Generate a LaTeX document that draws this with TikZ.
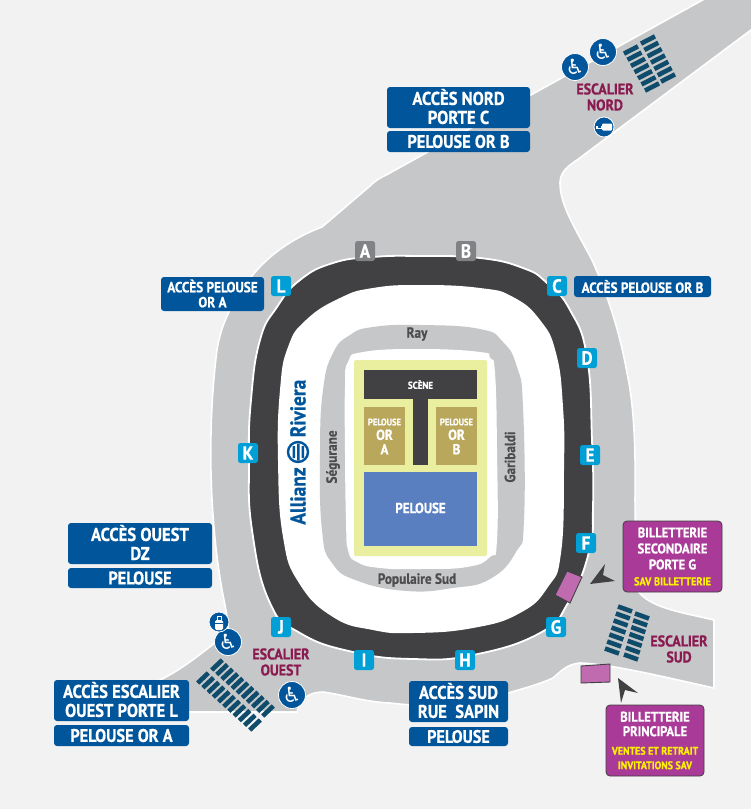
\documentclass[tikz,border=0pt]{standalone}
\usepackage{fontspec}
\setmainfont[FakeStretch=0.9,BoldFeatures={FakeBold=0.7}]{PT Sans}
\newfontfamily\symfont{DejaVu Sans}
\definecolor{bgc}{HTML}{F2F2F2}
\definecolor{road}{HTML}{C6C7C8}
\definecolor{ringc}{HTML}{414042}
\definecolor{blu}{HTML}{00559B}
\definecolor{cyanc}{HTML}{00A0D6}
\definecolor{tilegrey}{HTML}{808285}
\definecolor{purp}{HTML}{A93A97}
\definecolor{lilac}{HTML}{C06AB0}
\definecolor{wine}{HTML}{8A1A4F}
\definecolor{stairc}{HTML}{0F4C6B}
\definecolor{yel}{HTML}{E9EF9F}
\definecolor{gold}{HTML}{B9A75C}
\definecolor{pelblue}{HTML}{5A7FC0}
\definecolor{standtxt}{HTML}{4D4D4F}
\definecolor{yeltxt}{HTML}{FFF200}
\newcommand{\fs}[2]{\fontsize{#1}{#2}\selectfont\bfseries}
% stairs: start, end, half vector of one bar, number of bars
\newcommand{\stairrun}[7]{%
  \pgfmathtruncatemacro{\lastk}{#7-1}%
  \foreach \k in {0,...,\lastk}{%
    \pgfmathsetmacro{\mx}{#1+(#3-#1)*\k/(#7-1)}%
    \pgfmathsetmacro{\my}{#2+(#4-#2)*\k/(#7-1)}%
    \draw[stairbar] ({\mx-(#5)},{\my-(#6)}) -- ({\mx+(#5)},{\my+(#6)});
  }}
\tikzset{
  x=1pt,y=-1pt,
  every node/.style={inner sep=0pt,outer sep=0pt,text=white},
  bluebox/.style={fill=blu,rounded corners=3pt,align=center,minimum height=#1},
  bluefill/.style={fill=blu,rounded corners=3pt},
  purplebox/.style={fill=purp,draw=ringc,line width=0.8pt,rounded corners=4pt,align=center},
  tile/.style={fill=cyanc,rounded corners=2.5pt,minimum size=20pt,font=\fs{19}{19}},
  greytile/.style={tile,fill=tilegrey},
  wine label/.style={text=wine,align=center,font=\fs{15.5}{16}},
  stand/.style={text=standtxt,font=\fs{14.7}{15}},
  stairbar/.style={draw=stairc,line width=4.6pt},
  icon/.style={circle,fill=blu,draw=white,line width=0.8pt,minimum size=27pt,font=\symfont\fontsize{21}{21}\selectfont},
  small icon/.style={circle,fill=blu,draw=white,line width=0.8pt,minimum size=20pt},
  kiosk/.style={fill=lilac,draw=ringc,line width=0.9pt},
  pointer/.style={fill=ringc},
  curve/.style={smooth cycle,tension=0.8},
}
\begin{document}
\begin{tikzpicture}
\useasboundingbox (0,0) rectangle (751,809);
\fill[bgc] (0,0) rectangle (751,809);
% roads
\draw[white,fill=road,line width=1.6pt,line join=round]
  (708,-3) -- (388,174)
  .. controls (380,178) and (376,180) .. (370,186)
  -- (322,227)
  .. controls (300,235) and (280,248) .. (267,260)
  .. controls (245,280) and (222,315) .. (217,350)
  .. controls (208,420) and (208,510) .. (222,590)
  .. controls (226,610) and (229,625) .. (228,633)
  .. controls (205,650) and (185,668) .. (160,680)
  -- (140,690) -- (140,712) -- (297,712)
  .. controls (300,700) and (308,692) .. (323,692)
  .. controls (345,695) and (365,702) .. (390,703)
  .. controls (430,708) and (475,705) .. (508,693)
  .. controls (525,688) and (540,684) .. (553,678)
  .. controls (562,670) and (568,664) .. (580,663)
  .. controls (610,664) and (660,676) .. (714,688)
  -- (714,620)
  .. controls (680,612) and (650,608) .. (637,590)
  .. controls (633,570) and (636,540) .. (635,500)
  .. controls (636,440) and (633,400) .. (627,373)
  .. controls (622,345) and (613,307) .. (592,260)
  .. controls (575,228) and (560,205) .. (560,183)
  .. controls (560,172) and (568,166) .. (577,160)
  -- (755,27) -- (755,-3) -- cycle;
% bowl
\draw[white,fill=ringc,line width=1.8pt] plot[curve] coordinates {(420,256) (480,258) (523,268) (547,283) (570,310) (587,357) (592,440) (593,507) (589,552) (568,603) (540,633) (473,655) (413,659) (353,652) (300,633) (270,603) (252,530) (249,460) (251,400) (260,340) (277,307) (300,280) (333,263) (373,257)};
\fill[white] plot[curve] coordinates {(420,285) (480,288) (513,297) (540,320) (556,353) (563,407) (564,470) (561,553) (548,587) (520,613) (473,628) (413,633) (373,630) (333,617) (299,583) (283,537) (278,460) (280,390) (288,347) (306,320) (340,298) (373,288)};
\fill[road] plot[curve] coordinates {(420,325) (480,329) (503,342) (517,367) (523,407) (524,520) (516,552) (490,579) (453,588) (407,591) (358,581) (332,563) (322,530) (320,453) (323,390) (333,353) (350,335) (373,327)};
\fill[white] plot[curve] coordinates {(420,349) (480,352) (490,358) (495,373) (497,450) (497,540) (490,557) (467,567) (420,569) (380,568) (357,562) (348,550) (346,520) (345,453) (345,387) (348,362) (363,352)};
\fill[yel,rounded corners=2pt] (354,360) rectangle (487,556);
\fill[ringc] (364,370) rectangle (477,399);
\fill[ringc] (413,399) rectangle (428,465);
\fill[gold] (364,407) rectangle (405,465);
\fill[gold] (436,407) rectangle (477,465);
\fill[pelblue] (364,472) rectangle (477,546);
\node[font=\fs{10}{10}] (scene) at (420.5,384.5) {SCÈNE};
\node[align=center,font=\fs{14.5}{14.5}] (ora) at (384.5,436.5) {{\fs{9.5}{10}PELOUSE}\\OR\\A};
\node[align=center,font=\fs{14.5}{14.5}] (orb) at (456.5,436.5) {{\fs{9.5}{10}PELOUSE}\\OR\\B};
\node[font=\fs{14.5}{15}] (pel) at (420.5,508) {PELOUSE};
\node[stand] (ray) at (417,334) {Ray};
\node[stand] (pop) at (417,580) {Populaire Sud};
\node[stand,rotate=90] (seg) at (333,457) {Ségurane};
\node[stand,rotate=90] (gar) at (510,457) {Garibaldi};
% sponsor
\node[rotate=90,text=blu,font=\fs{21.5}{22}] (allianz) at (298,496) {Allianz};
\node[rotate=90,text=blu,font=\fs{21.5}{22}] (riviera) at (298,408.5) {Riviera};
\node[circle,draw=blu,line width=2.4pt,minimum size=20pt] (logo) at (298,452) {};
\fill[blu] (292.5,446) rectangle (295,458) (297,443.5) rectangle (299.5,460.5) (301.5,446) rectangle (304,458);
% tiles
\node[greytile] (A) at (365,251) {A};
\node[greytile] (B) at (466,251) {B};
\node[tile] (C) at (557,286) {C};
\node[tile] (D) at (587,358) {D};
\node[tile] (E) at (590,455) {E};
\node[tile] (F) at (586,543) {F};
\node[tile] (G) at (556,627) {G};
\node[tile] (H) at (465,660) {H};
\node[tile] (I) at (364,660) {I};
\node[tile] (J) at (281,627) {J};
\node[tile] (K) at (248,453) {K};
\node[tile] (L) at (281,286) {L};
% stairs
\stairrun{631}{50}{652}{87}{7}{-3.6}{7}
\stairrun{648}{40}{668}{78}{7}{-3.6}{7}
\stairrun{625}{609}{612}{651}{7}{2.5}{7}
\stairrun{642}{616}{631}{657}{7}{2.5}{7}
\stairrun{217}{665}{268}{711}{5.3}{-5}{11}
\stairrun{203}{678}{255}{725}{5.3}{-5}{11}
% kiosks and pointers
\draw[kiosk] (567,571) -- (582,577) -- (570,603) -- (555,595) -- cycle;
\draw[kiosk] (581,666) -- (610,664) -- (610,682) -- (581,683) -- cycle;
\fill[pointer] (590,584) -- (605,564) -- (603,575) -- (615,581) -- cycle;
\fill[pointer] (618,678) -- (638,693) -- (625,690) -- (621,703) -- cycle;
% wine labels
\node[wine label] (esn) at (605,97) {ESCALIER\\NORD};
\node[wine label] (eso) at (281,662) {ESCALIER\\OUEST};
\node[wine label] (ess) at (679,649) {ESCALIER\\SUD};
% icons
\node[icon] (w1) at (603,52) {♿};
\node[icon] (w2) at (575,67) {♿};
\node[icon] (w3) at (228,642) {♿};
\node[icon] (w4) at (292,695) {♿};
\node[small icon] (bag) at (219,622) {};
\fill[white,rounded corners=1.5pt] (215,620) rectangle (223,630);
\draw[white,line width=1pt] (217,620) -- (217,616.5) -- (221,616.5) -- (221,620);
\draw[blu,line width=0.7pt] (215,623) -- (223,623);
\node[small icon] (tag) at (604,127) {};
\fill[white,rounded corners=1pt] (602,123.5) rectangle (612,130.5);
\fill[white] (596,125.5) rectangle (602,128.5);
\fill[blu] (598,126.3) rectangle (601,127.7);
% blue boxes
\fill[bluefill] (387,87) rectangle (530,128);
\node[align=center,font=\fs{18.5}{19}] (nord) at (458.5,106.5) {ACCÈS NORD\\PORTE C};
\node[bluebox=21pt,minimum width=143pt,font=\fs{18.2}{19}] (nordp) at (458.5,141.5) {PELOUSE OR B};
\fill[bluefill] (161,277) rectangle (264,311);
\node[align=center,font=\fs{14.7}{15}] (pa) at (212.5,293.5) {ACCÈS PELOUSE\\OR A};
\node[bluebox=21pt,minimum width=137pt,font=\fs{14.7}{15}] (pb) at (642.5,286.5) {ACCÈS PELOUSE OR B};
\fill[bluefill] (68,523) rectangle (212,564);
\node[align=center,font=\fs{18.5}{19}] (ouest) at (140,542.5) {ACCÈS OUEST\\DZ};
\node[bluebox=20pt,minimum width=144pt,font=\fs{18.2}{18}] (ouestp) at (140,578) {PELOUSE};
\fill[bluefill] (54,680) rectangle (189,721);
\node[align=center,font=\fs{18.4}{19}] (esc) at (121.5,699.5) {ACCÈS ESCALIER\\OUEST PORTE L};
\node[bluebox=21pt,minimum width=135pt,font=\fs{18.2}{19}] (escp) at (121.5,735.5) {PELOUSE OR A};
\fill[bluefill] (409,681) rectangle (508,722);
\node[align=center,font=\fs{18.4}{19}] (sud) at (458.5,700.5) {ACCÈS SUD\\RUE~~SAPIN};
\node[bluebox=19pt,minimum width=99pt,font=\fs{18}{18}] (sudp) at (458.5,736.5) {PELOUSE};
% purple boxes
\node[purplebox,minimum width=99pt,minimum height=71pt,font=\fs{14}{16}] (bs) at (672.5,556.5) {BILLETTERIE\\SECONDAIRE\\PORTE G\\{\color{yeltxt}\fs{11.5}{13}SAV BILLETTERIE}};
\node[purplebox,minimum width=98pt,minimum height=71pt,font=\fs{14}{14.5}] (bp) at (655,740.5) {BILLETTERIE\\PRINCIPALE\\[4pt]{\color{yeltxt}\fs{11}{13}VENTES ET RETRAIT}\\[0pt]{\color{yeltxt}\fs{11}{13}INVITATIONS SAV}};
\end{tikzpicture}
\end{document}
